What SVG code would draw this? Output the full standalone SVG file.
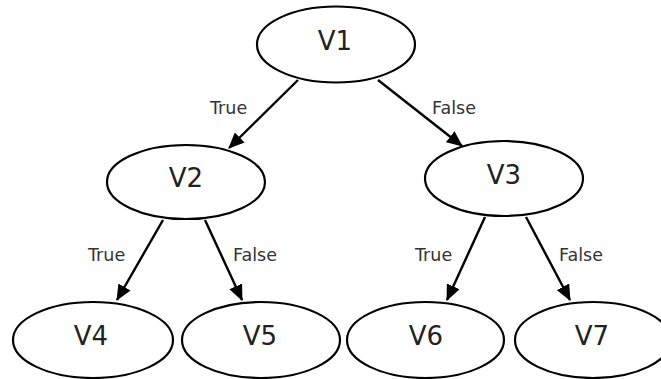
<svg xmlns="http://www.w3.org/2000/svg" width="661" height="379" viewBox="0 0 661 379">
<defs>
<marker id="arr" markerUnits="userSpaceOnUse" markerWidth="16" markerHeight="14" refX="15" refY="7" orient="auto">
<path d="M0,0 L16,7 L0,14 z" fill="#000"/>
</marker>
<style>
.node ellipse{fill:#fff;stroke:#000;stroke-width:2.2}
.node text{font-family:"DejaVu Sans",sans-serif;font-size:26px;fill:#222;text-anchor:middle}
.edges line{stroke:#000;stroke-width:2.4;marker-end:url(#arr)}
.lbl{font-family:"DejaVu Sans",sans-serif;font-size:17.5px;fill:#333}
</style>
</defs>
<rect width="661" height="379" fill="#fff"/>
<g class="edges" id="connectors">
<line x1="298" y1="80" x2="229" y2="148"/>
<line x1="378" y1="80" x2="462" y2="146"/>
<line x1="163" y1="220" x2="117" y2="300"/>
<line x1="205" y1="220" x2="242" y2="300"/>
<line x1="485" y1="217" x2="447" y2="300"/>
<line x1="526" y1="217" x2="570" y2="300"/>
<text class="lbl" x="210" y="114">True</text>
<text class="lbl" x="432" y="114">False</text>
<text class="lbl" x="88" y="261">True</text>
<text class="lbl" x="233" y="261">False</text>
<text class="lbl" x="415" y="261">True</text>
<text class="lbl" x="559" y="261">False</text>
</g>
<g class="node" id="V1"><ellipse cx="336" cy="44.5" rx="79" ry="38"/><text x="335" y="50">V1</text></g>
<g class="node" id="V2"><ellipse cx="186" cy="182" rx="79" ry="37"/><text x="186" y="187">V2</text></g>
<g class="node" id="V3"><ellipse cx="504" cy="178.5" rx="79" ry="37.5"/><text x="504" y="184">V3</text></g>
<g class="node" id="V4"><ellipse cx="93" cy="340" rx="80" ry="38"/><text x="91" y="345">V4</text></g>
<g class="node" id="V5"><ellipse cx="261" cy="340" rx="79" ry="38"/><text x="260" y="345">V5</text></g>
<g class="node" id="V6"><ellipse cx="425.5" cy="340" rx="78.5" ry="38"/><text x="426" y="345">V6</text></g>
<g class="node" id="V7"><ellipse cx="593" cy="340" rx="78" ry="38"/><text x="592" y="345">V7</text></g>
</svg>
